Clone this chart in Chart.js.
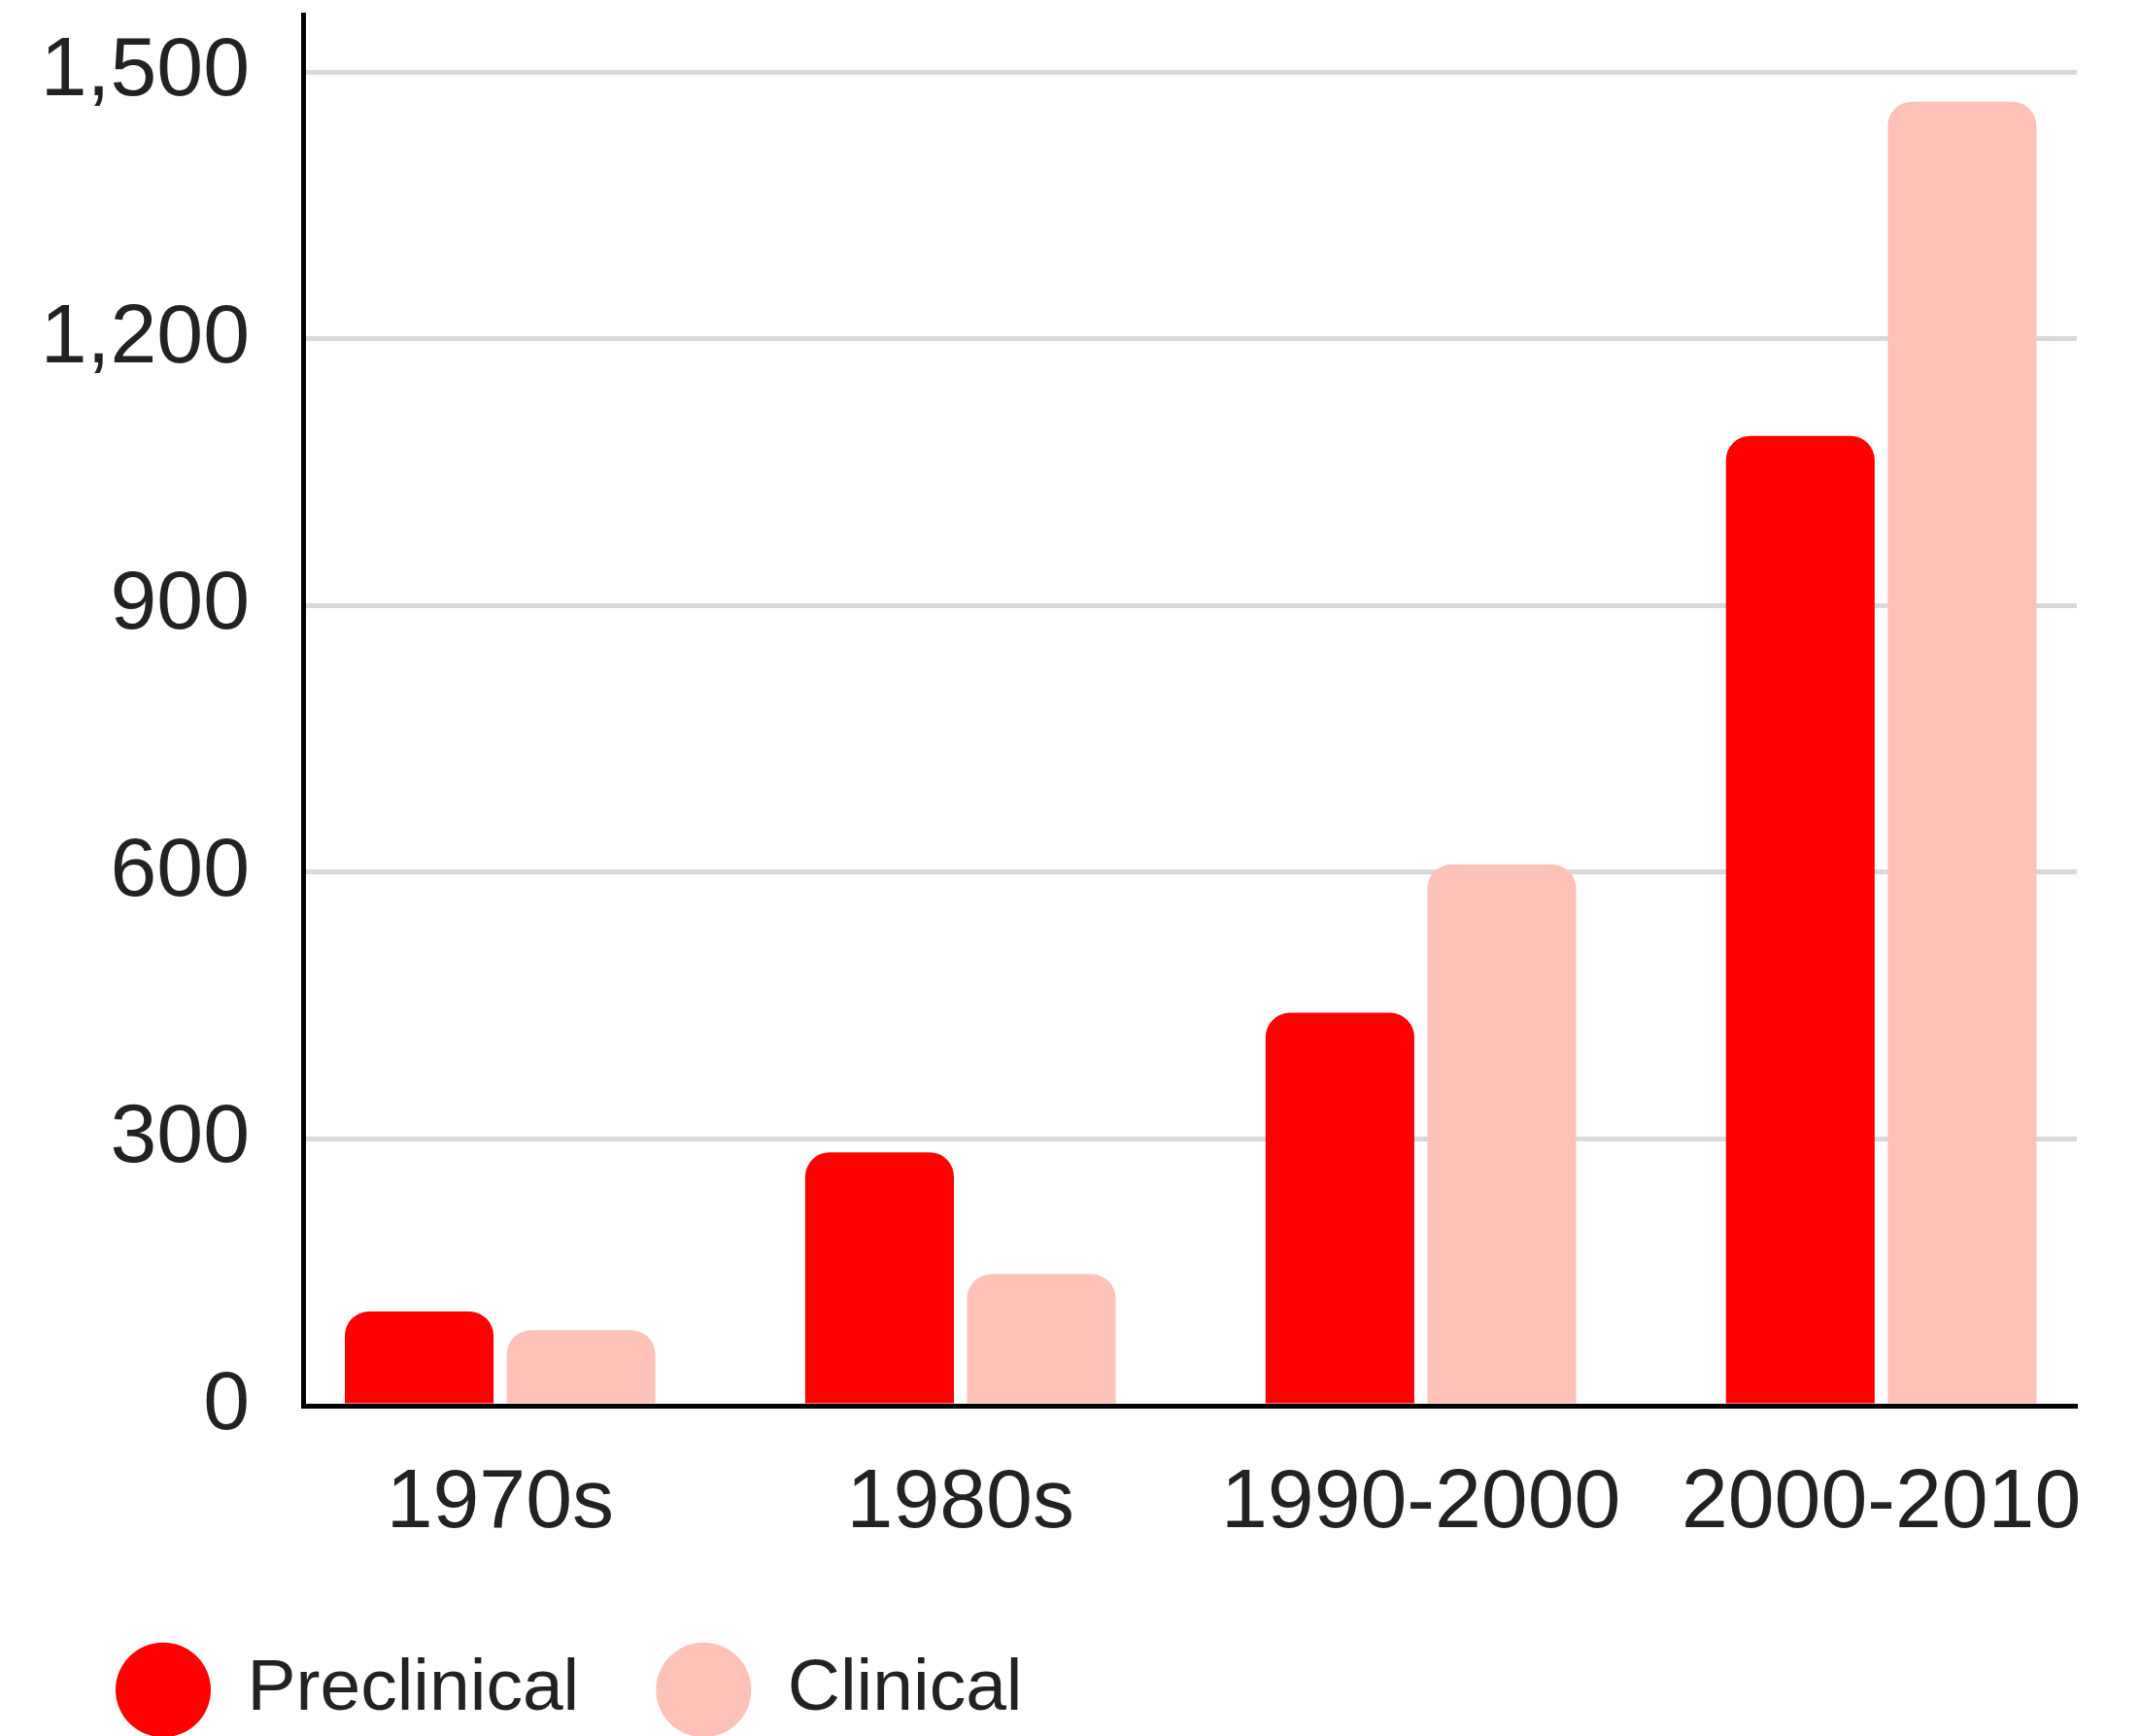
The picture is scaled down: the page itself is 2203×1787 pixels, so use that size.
<!DOCTYPE html>
<html>
<head>
<meta charset="utf-8">
<script src="https://cdn.jsdelivr.net/npm/chart.js@4/dist/chart.umd.min.js"></script>
<style>
  html, body { margin: 0; padding: 0; background: #fff; }
</style>
</head>
<body>
<canvas id="chart" width="2203" height="1787"></canvas>
<script>
// data
const categories = ['1970s', '1980s', '1990-2000', '2000-2010'];
const preclinical = [106, 285, 442, 1091];
const clinical = [85, 148, 609, 1467];
const yTicks = [0, 300, 600, 900, 1200, 1500];

const font = "'Liberation Sans', Arial, sans-serif";
const textColor = '#222222';

// bars sit on a linear x so the groups line up with the axis frame
const toPoints = (vals) => vals.map((v, i) => ({ x: i, y: v }));

const ctx = document.getElementById('chart').getContext('2d');
const chart = new Chart(ctx, {
  type: 'bar',
  data: {
    datasets: [
      {
        label: 'Preclinical',
        data: toPoints(preclinical),
        backgroundColor: '#ff0000',
        borderWidth: 0,
        borderRadius: 25,
        categoryPercentage: 0.703,
        barPercentage: 0.919,
      },
      {
        label: 'Clinical',
        data: toPoints(clinical),
        backgroundColor: '#ffc2b9',
        borderWidth: 0,
        borderRadius: 25,
        categoryPercentage: 0.703,
        barPercentage: 0.919,
      },
    ],
  },
  options: {
    responsive: false,
    animation: false,
    locale: 'en-US',
    layout: {
      padding: { left: 40, right: 65, top: 15, bottom: 0 },
    },
    scales: {
      x: {
        type: 'linear',
        offset: false,
        min: -0.428,
        max: 3.425,
        afterBuildTicks: (scale) => {
          scale.ticks = categories.map((c, i) => ({ value: i }));
        },
        afterFit: (scale) => {
          scale.height = 176;
        },
        grid: { display: false, drawTicks: false, offset: false },
        border: { display: true, color: '#000000', width: 5 },
        ticks: {
          callback: (value) => categories[value],
          autoSkip: false,
          maxRotation: 0,
          padding: 50,
          color: textColor,
          font: { family: font, size: 86, lineHeight: 1.2 },
        },
      },
      y: {
        min: 0,
        max: 1565,
        afterBuildTicks: (scale) => {
          scale.ticks = yTicks.map((v) => ({ value: v }));
        },
        afterFit: (scale) => {
          scale.width = 272;
        },
        grid: {
          color: '#d9d9d9',
          lineWidth: 5,
          drawTicks: true,
          tickLength: 55,
          tickColor: 'rgba(0,0,0,0)',
        },
        border: { display: true, color: '#000000', width: 5 },
        ticks: {
          padding: 0,
          color: textColor,
          font: { family: font, size: 86, lineHeight: 0.3 },
        },
      },
    },
    plugins: {
      tooltip: { enabled: false },
      legend: {
        position: 'bottom',
        align: 'start',
        labels: {
          usePointStyle: true,
          pointStyle: 'circle',
          pointStyleWidth: 98,
          boxHeight: 69,
          padding: 79,
          color: textColor,
          font: { family: font, size: 75 },
        },
      },
    },
  },
});
</script>
</body>
</html>
